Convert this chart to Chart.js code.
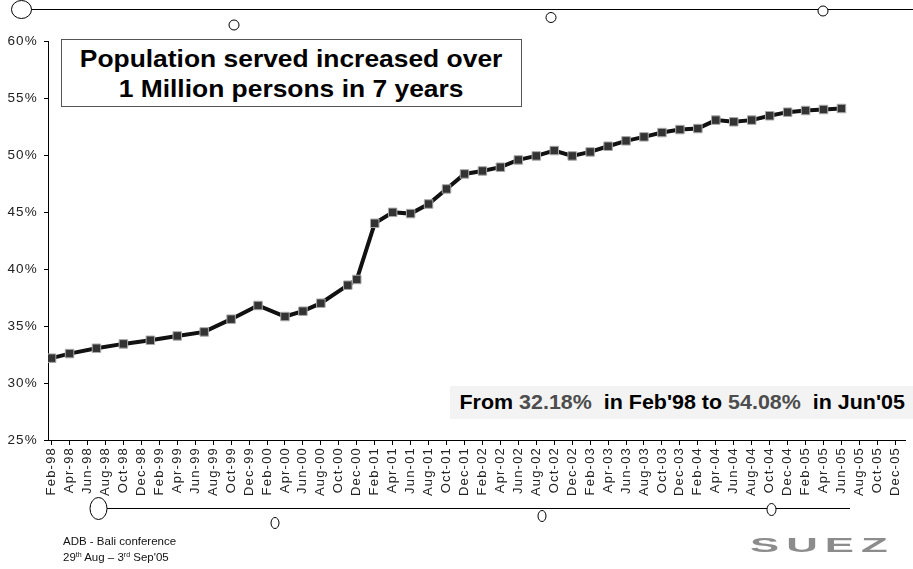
<!DOCTYPE html>
<html>
<head>
<meta charset="utf-8">
<title>Population served</title>
<script src="https://cdn.jsdelivr.net/npm/chart.js@4.4.0/dist/chart.umd.min.js"></script>
<style>
  html, body { margin: 0; padding: 0; background: #fff; }
  #wrap { position: relative; width: 913px; height: 569px; overflow: hidden;
          font-family: "Liberation Sans", Arial, sans-serif; color: #000; }
  #chart { position: absolute; left: 0; top: 0; }
  .title-box { position: absolute; left: 61px; top: 39px; width: 461px; height: 68px;
               box-sizing: border-box; border: 1px solid #555; background: #fff;
               text-align: center; padding-top: 4px; }
  .title-box span { display: inline-block; font-weight: bold; font-size: 24px; line-height: 30px;
                    transform: scaleX(1.1); white-space: nowrap; }
  .note { position: absolute; right: 0; top: 386px; height: 33px; background: #f3f3f3;
          padding: 0 8px 0 50px; white-space: nowrap; }
  .note span.txt { display: inline-block; font-weight: bold; font-size: 19.5px; line-height: 33px;
                   transform: scaleX(1.1); transform-origin: right center; }
  .note .num { color: #4d4d4d; }
  .footer { position: absolute; left: 63px; top: 533px; font-size: 11.5px; line-height: 16px; color: #111; }
  .footer sup { font-size: 7px; vertical-align: 4px; line-height: 0; }
  .logo { position: absolute; left: 750px; top: 530px; font-size: 25px; line-height: 30px; font-weight: bold;
          color: #8c8c8c; letter-spacing: 4px; transform: scaleX(1.75) scaleY(0.8); transform-origin: left center; }
</style>
</head>
<body>
<div id="wrap">
  <canvas id="chart" width="913" height="569"></canvas>
  <div class="title-box"><span>Population served increased over<br>1 Million persons in 7 years</span></div>
  <div class="note"><span class="txt">From <span class="num">32.18%</span>&nbsp; in Feb'98 to <span class="num">54.08%</span>&nbsp; in Jun'05</span></div>
  <div class="footer">ADB - Bali conference<br>29<sup>th</sup> Aug &ndash; 3<sup>rd</sup> Sep'05</div>
  <div class="logo">SUEZ</div>
</div>
<script>
// Survey dates and share of population served (%)
const dates = ['Feb-98', 'Apr-98', 'Jul-98', 'Oct-98', 'Jan-99', 'Apr-99', 'Jul-99', 'Oct-99',
    'Jan-00', 'Apr-00', 'Jun-00', 'Aug-00', 'Nov-00', 'Dec-00', 'Feb-01', 'Apr-01', 'Jun-01',
    'Aug-01', 'Oct-01', 'Dec-01', 'Feb-02', 'Apr-02', 'Jun-02', 'Aug-02', 'Oct-02', 'Dec-02',
    'Feb-03', 'Apr-03', 'Jun-03', 'Aug-03', 'Oct-03', 'Dec-03', 'Feb-04', 'Apr-04', 'Jun-04',
    'Aug-04', 'Oct-04', 'Dec-04', 'Feb-05', 'Apr-05', 'Jun-05'];
const served = [32.18, 32.58, 33.05, 33.43, 33.75, 34.13, 34.48, 35.60,
    36.80, 35.83, 36.30, 37.00, 38.58, 39.08, 44.01, 44.97, 44.86,
    45.70, 47.02, 48.34, 48.60, 48.93, 49.57, 49.92, 50.39, 49.92,
    50.27, 50.77, 51.24, 51.59, 51.97, 52.23, 52.32, 53.06, 52.91,
    53.06, 53.44, 53.76, 53.90, 53.99, 54.08];

// Axis labels (every second month)
const tickLabels = ['Feb-98', 'Apr-98', 'Jun-98', 'Aug-98', 'Oct-98', 'Dec-98',
    'Feb-99', 'Apr-99', 'Jun-99', 'Aug-99', 'Oct-99', 'Dec-99',
    'Feb-00', 'Apr-00', 'Jun-00', 'Aug-00', 'Oct-00', 'Dec-00',
    'Feb-01', 'Apr-01', 'Jun-01', 'Aug-01', 'Oct-01', 'Dec-01',
    'Feb-02', 'Apr-02', 'Jun-02', 'Aug-02', 'Oct-02', 'Dec-02',
    'Feb-03', 'Apr-03', 'Jun-03', 'Aug-03', 'Oct-03', 'Dec-03',
    'Feb-04', 'Apr-04', 'Jun-04', 'Aug-04', 'Oct-04', 'Dec-04',
    'Feb-05', 'Apr-05', 'Jun-05', 'Aug-05', 'Oct-05', 'Dec-05'];
const yTicks = [25, 30, 35, 40, 45, 50, 55, 60];

const monthNames = ['Jan', 'Feb', 'Mar', 'Apr', 'May', 'Jun', 'Jul', 'Aug', 'Sep', 'Oct', 'Nov', 'Dec'];

// months counted from Feb-98
function monthIndex(label) {
    const parts = label.split('-');
    const m = monthNames.indexOf(parts[0]);
    let y = parseInt(parts[1], 10);
    y = y < 50 ? 2000 + y : 1900 + y;
    return (y - 1998) * 12 + m - 1;
}

const tickMonths = tickLabels.map(monthIndex);
const points = dates.map((d, i) => ({ x: monthIndex(d), y: served[i] }));

// slide template ornaments (lines and little circles)
const templateDeco = {
    id: 'templateDeco',
    beforeDraw(chart) {
        chart.ctx.letterSpacing = '1.2px';
    },
    afterDraw(chart) {
        const ctx = chart.ctx;
        ctx.letterSpacing = '0px';
        ctx.save();
        ctx.strokeStyle = '#000';
        ctx.lineWidth = 1;
        ctx.beginPath();
        ctx.moveTo(31, 9.5); ctx.lineTo(913, 9.5);
        ctx.moveTo(106, 508.5); ctx.lineTo(850, 508.5);
        ctx.stroke();
        const rings = [
            [21.5, 9.5, 10, 9], [234, 25, 5, 5], [551, 17.5, 5, 5], [823, 11, 5, 5],
            [98.5, 508.5, 8.5, 11], [275, 523, 4, 5.5], [542, 516, 4, 5.5], [771.5, 509.5, 4.5, 6]
        ];
        rings.forEach(r => {
            ctx.beginPath();
            ctx.ellipse(r[0], r[1], r[2], r[3], 0, 0, Math.PI * 2);
            ctx.fillStyle = '#fff';
            ctx.fill();
            ctx.stroke();
        });
        ctx.restore();
    }
};

const ctx = document.getElementById('chart').getContext('2d');
new Chart(ctx, {
    type: 'line',
    data: {
        datasets: [{
            data: points,
            borderColor: '#111',
            borderWidth: 4,
            tension: 0,
            pointStyle: 'rect',
            pointRadius: 6,
            pointBackgroundColor: '#333',
            pointBorderColor: '#aaa',
            pointBorderWidth: 1
        }]
    },
    options: {
        responsive: false,
        animation: false,
        devicePixelRatio: 1,
        layout: { padding: { top: 41, right: 1, left: 0, bottom: 0 } },
        plugins: {
            legend: { display: false },
            tooltip: { enabled: false }
        },
        scales: {
            x: {
                type: 'linear',
                min: -0.4,
                max: 95.1,
                afterBuildTicks: function(scale) {
                    scale.ticks = tickMonths.map(v => ({ value: v }));
                },
                afterFit: function(scale) { scale.height = 129; },
                grid: { drawOnChartArea: false, drawTicks: true, tickLength: 5, color: '#000' },
                border: { display: true, color: '#000', width: 1 },
                ticks: {
                    autoSkip: false,
                    minRotation: 90,
                    maxRotation: 90,
                    padding: 2,
                    color: '#222',
                    font: { family: '"Liberation Sans", Arial, sans-serif', size: 13 },
                    callback: function(value) {
                        const i = tickMonths.indexOf(value);
                        return i >= 0 ? tickLabels[i] : '';
                    }
                }
            },
            y: {
                min: 25,
                max: 60,
                afterBuildTicks: function(scale) {
                    scale.ticks = yTicks.map(v => ({ value: v }));
                },
                afterFit: function(scale) { scale.width = 48; },
                grid: { drawOnChartArea: false, drawTicks: true, tickLength: 4, color: '#000' },
                border: { display: true, color: '#000', width: 1 },
                ticks: {
                    padding: 6,
                    color: '#222',
                    font: { family: '"Liberation Sans", Arial, sans-serif', size: 13.5 },
                    callback: function(value) { return value + '%'; }
                }
            }
        }
    },
    plugins: [templateDeco]
});
</script>
</body>
</html>
